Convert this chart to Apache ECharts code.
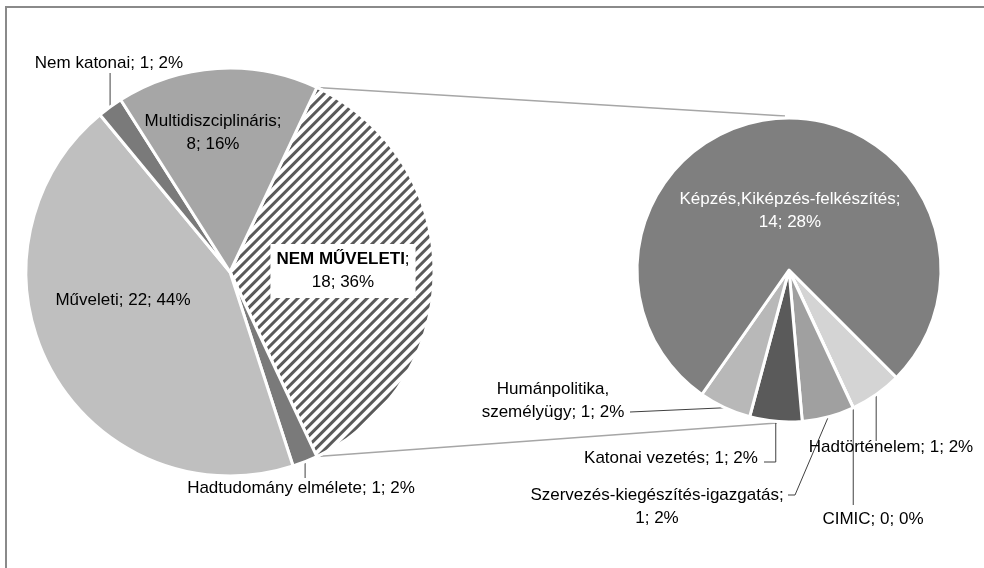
<!DOCTYPE html>
<html>
<head>
<meta charset="utf-8">
<script src="https://cdn.jsdelivr.net/npm/echarts@6/dist/echarts.min.js"></script>
<style>
html, body { margin: 0; padding: 0; background: #fff; }
#main { width: 984px; height: 568px; }
</style>
</head>
<body>
<div id="main"></div>
<script>
// bal oldali kör
var leftNames = ['NEM MŰVELETI', 'Hadtudomány elmélete', 'Műveleti', 'Nem katonai', 'Multidiszciplináris'];
var leftValues = [18, 1, 22, 1, 8];
var leftColors = ['#ffffff', '#7a7a7a', '#bfbfbf', '#7a7a7a', '#a6a6a6'];
var leftWrap = [true, false, false, false, true];

// jobb oldali kör (a NEM MŰVELETI bontása)
var rightNames = ['Hadtörténelem', 'CIMIC', 'Szervezés-kiegészítés-igazgatás', 'Katonai vezetés', 'Humánpolitika,\nszemélyügy', 'Képzés,Kiképzés-felkészítés'];
var rightValues = [1, 0, 1, 1, 1, 14];
var rightColors = ['#d4d4d4', '#c8c8c8', '#a0a0a0', '#5a5a5a', '#b8b8b8', '#7f7f7f'];
var rightWrap = [false, false, true, false, false, true];

var total = leftValues.reduce(function (a, b) { return a + b; }, 0);

var font = "'Liberation Sans', Arial, sans-serif";

var L = { cx: 230, cy: 272, r: 204 };
var R = { cx: 789, cy: 270, r: 152 };

// címkék helye (null = a vonal kezdőpontjának x-e)
var leftSpots = [
  { x: 343, y: 271 },
  { x: 301, y: 488, path: [[null, 478]] },
  { x: 123, y: 300 },
  { x: 109, y: 63, path: [[null, 73]] },
  { x: 213, y: 133 }
];
var rightSpots = [
  { x: 891, y: 447, path: [[null, 441]] },
  { x: 873, y: 519, path: [[null, 505]] },
  { x: 657, y: 507, path: [[795, 495], [788, 495]] },
  { x: 671, y: 458, path: [[null, 462], [764, 462]] },
  { x: 553, y: 401, path: [[630, 412]] },
  { x: 790, y: 211 }
];

function labelText(name, value, wrap) {
  var pct = Math.round(value / total * 100);
  if (name === 'NEM MŰVELETI') return '{b|' + name + '};\n' + value + '; ' + pct + '%';
  return name + ';' + (wrap ? '\n' : ' ') + value + '; ' + pct + '%';
}

function buildData(names, values, colors, wrap, spots) {
  return names.map(function (n, i) {
    var item = {
      name: n,
      value: values[i],
      itemStyle: { color: colors[i] },
      label: { formatter: labelText(n, values[i], wrap[i]) }
    };
    if (!spots[i].path) item.labelLine = { show: false };
    return item;
  });
}

function makeLayout(spots) {
  return function (p) {
    var s = spots[p.dataIndex];
    var out = { x: s.x, y: s.y, align: 'center', verticalAlign: 'middle' };
    if (s.path && p.labelLinePoints) {
      var st = p.labelLinePoints[0];
      var pts = [[st[0], st[1]]];
      s.path.forEach(function (q) { pts.push([q[0] == null ? st[0] : q[0], q[1]]); });
      out.labelLinePoints = pts;
    }
    return out;
  };
}

var leftData = buildData(leftNames, leftValues, leftColors, leftWrap, leftSpots);
leftData[0].itemStyle.decal = {
  symbol: 'rect',
  symbolSize: 1,
  color: '#5a5a5a',
  dashArrayX: [[1, 0]],
  dashArrayY: [3, 4],
  rotation: -Math.PI / 4
};
leftData[0].label.backgroundColor = '#fff';
leftData[0].label.padding = [4, 6];

var rightData = buildData(rightNames, rightValues, rightColors, rightWrap, rightSpots);
rightData[5].label.color = '#fff';

// összekötő vonalak a két kör között
var half = leftValues[0] / total * 180;
var a = half * Math.PI / 180;
var p1 = [L.cx + L.r * Math.cos(a), L.cy - L.r * Math.sin(a)];
var p2 = [L.cx + L.r * Math.cos(a), L.cy + L.r * Math.sin(a)];

var myChart = echarts.init(document.getElementById('main'));
var option = {
  backgroundColor: '#fff',
  animation: false,
  textStyle: { fontFamily: font },
  graphic: [
    { type: 'rect', shape: { x: 6, y: 7, width: 1100, height: 700 }, style: { fill: 'none', stroke: '#8a8a8a', lineWidth: 2 } },
    { type: 'line', shape: { x1: p1[0], y1: p1[1], x2: R.cx - 4, y2: R.cy - R.r - 2 }, style: { stroke: '#a6a6a6', lineWidth: 1.5 } },
    { type: 'line', shape: { x1: p2[0], y1: p2[1], x2: R.cx - 12, y2: R.cy + R.r + 1 }, style: { stroke: '#a6a6a6', lineWidth: 1.5 } }
  ],
  series: [
    {
      name: 'bal',
      type: 'pie',
      center: [L.cx, L.cy],
      radius: L.r,
      startAngle: half,
      clockwise: true,
      avoidLabelOverlap: false,
      itemStyle: { borderColor: '#fff', borderWidth: 3 },
      label: {
        position: 'outside',
        fontFamily: font,
        fontSize: 17,
        color: '#000',
        lineHeight: 23,
        rich: { b: { fontFamily: font, fontSize: 17, fontWeight: 'bold', color: '#000' } }
      },
      labelLine: { show: true, lineStyle: { color: '#404040', width: 1 } },
      labelLayout: makeLayout(leftSpots),
      emphasis: { disabled: true },
      data: leftData
    },
    {
      name: 'jobb',
      type: 'pie',
      center: [R.cx, R.cy],
      radius: R.r,
      startAngle: 315,
      clockwise: true,
      avoidLabelOverlap: false,
      itemStyle: { borderColor: '#fff', borderWidth: 3 },
      label: {
        position: 'outside',
        fontFamily: font,
        fontSize: 17,
        color: '#000',
        lineHeight: 23
      },
      labelLine: { show: true, lineStyle: { color: '#404040', width: 1 } },
      labelLayout: makeLayout(rightSpots),
      emphasis: { disabled: true },
      data: rightData
    }
  ]
};
myChart.setOption(option);
</script>
</body>
</html>
